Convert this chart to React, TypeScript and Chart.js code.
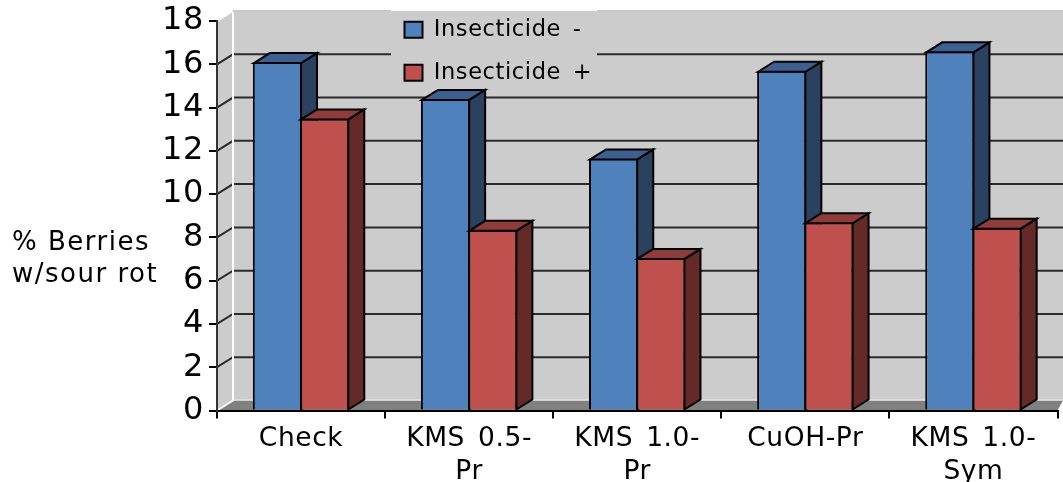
import React, { useEffect, useRef } from "react";
import { Chart, registerables } from "chart.js";

Chart.register(...registerables);

const categories = [["Check"], ["KMS 0.5-", "Pr"], ["KMS 1.0-", "Pr"], ["CuOH-Pr"], ["KMS 1.0-", "Sym"]];
const insecticideMinus = [16.1, 14.4, 11.65, 15.7, 16.6];
const insecticidePlus = [13.5, 8.35, 7.05, 8.7, 8.45];
const seriesNames = ["Insecticide -", "Insecticide +"];
const axisTitleLines = ["% Berries", "w/sour rot"];
const yTicks = [0, 2, 4, 6, 8, 10, 12, 14, 16, 18];

const DX = 16;
const DY = -10;
const WALL = "#cccccc";
const FONT = '"DejaVu Sans", Verdana, sans-serif';
const sideColors = ["#2a4260", "#632a28"];
const topColors = ["#3c6090", "#8f3c3a"];

const wallPlugin = {
  id: "wall3d",
  afterLayout(chart: any) {
    const lg = chart.legend;
    if (lg) {
      lg.left = 384;
      lg.right = 700;
      lg.top = -2;
      lg.bottom = 200;
    }
  },
  beforeDraw(chart: any) {
    const { ctx, chartArea: a, scales } = chart;
    ctx.letterSpacing = "0.6px";
    ctx.wordSpacing = "4px";
    const y = scales.y;
    const edge = chart.width;
    const y0 = y.getPixelForValue(0);
    const yT = y.getPixelForValue(18);
    ctx.save();
    ctx.fillStyle = WALL;
    ctx.fillRect(a.left + DX, yT + DY, edge - a.left - DX, y0 - yT);
    ctx.beginPath();
    ctx.moveTo(a.left, y0);
    ctx.lineTo(a.left + DX, y0 + DY);
    ctx.lineTo(a.left + DX, yT + DY);
    ctx.lineTo(a.left, yT);
    ctx.closePath();
    ctx.fill();
    ctx.fillStyle = "#808080";
    ctx.beginPath();
    ctx.moveTo(a.left, y0);
    ctx.lineTo(a.left + DX, y0 + DY);
    ctx.lineTo(edge, y0 + DY);
    ctx.lineTo(a.right, y0);
    ctx.closePath();
    ctx.fill();
    ctx.strokeStyle = "#2b2b2b";
    ctx.lineWidth = 2;
    for (const v of yTicks) {
      if (v === 0 || v === 18) continue;
      const py = y.getPixelForValue(v);
      ctx.beginPath();
      ctx.moveTo(a.left, py);
      ctx.lineTo(a.left + DX, py + DY);
      ctx.lineTo(edge, py + DY);
      ctx.stroke();
    }
    ctx.strokeStyle = "#ffffff";
    ctx.lineWidth = 2;
    ctx.beginPath();
    ctx.moveTo(a.left, yT);
    ctx.lineTo(a.left + DX, yT + DY);
    ctx.lineTo(a.left + DX, y0 + DY);
    ctx.lineTo(a.left, y0);
    ctx.stroke();
    ctx.lineWidth = 1;
    ctx.strokeStyle = "#eeeeee";
    ctx.beginPath();
    ctx.moveTo(a.left + DX, y0 + DY - 0.5);
    ctx.lineTo(edge, y0 + DY - 0.5);
    ctx.stroke();
    ctx.lineWidth = 2;
    ctx.strokeStyle = "#c8c8c8";
    ctx.beginPath();
    ctx.moveTo(a.left + DX, yT + DY);
    ctx.lineTo(edge, yT + DY);
    ctx.stroke();
    ctx.fillStyle = "#ffffff";
    ctx.fillRect(391, 0, 206, yT + DY);
    ctx.fillStyle = WALL;
    ctx.fillRect(391, yT + DY, 206, 76);
    ctx.restore();

    ctx.save();
    ctx.fillStyle = "#000000";
    ctx.letterSpacing = "1.5px";
    ctx.wordSpacing = "0px";
    ctx.font = `26px ${FONT}`;
    ctx.textAlign = "left";
    ctx.textBaseline = "middle";
    axisTitleLines.forEach((t, i) => ctx.fillText(t, 12, 243 + i * 32));
    ctx.restore();
  },
  beforeDatasetDraw() {
    return false;
  },
  afterDatasetsDraw(chart: any) {
    const { ctx } = chart;
    chart.data.datasets.forEach((_: any, i: number) => {
      const meta = chart.getDatasetMeta(i);
      ctx.save();
      for (const bar of meta.data) {
        bar.draw(ctx);
        // Chart.js insets the 2px border, so trace the outline along its centre.
        const left = bar.x - bar.width / 2 + 1;
        const right = bar.x + bar.width / 2 - 1;
        const top = bar.y + 1;
        const base = bar.base;
        ctx.strokeStyle = "#000000";
        ctx.lineWidth = 2;
        ctx.fillStyle = sideColors[i];
        ctx.beginPath();
        ctx.moveTo(right, top);
        ctx.lineTo(right + DX, top + DY);
        ctx.lineTo(right + DX, base + DY);
        ctx.lineTo(right, base);
        ctx.closePath();
        ctx.fill();
        ctx.stroke();
        ctx.fillStyle = topColors[i];
        ctx.beginPath();
        ctx.moveTo(left, top);
        ctx.lineTo(left + DX, top + DY);
        ctx.lineTo(right + DX, top + DY);
        ctx.lineTo(right, top);
        ctx.closePath();
        ctx.fill();
        ctx.stroke();
      }
      ctx.restore();
    });
  },
};

export default function App() {
  const ref = useRef<HTMLCanvasElement | null>(null);
  useEffect(() => {
    const chart = new Chart(ref.current as HTMLCanvasElement, {
      type: "bar",
      data: {
        labels: categories,
        datasets: [
          { label: seriesNames[0], data: insecticideMinus, backgroundColor: "#4f81bd", borderColor: "#000000", borderWidth: 2 },
          { label: seriesNames[1], data: insecticidePlus, backgroundColor: "#c0504d", borderColor: "#000000", borderWidth: 2 },
        ],
      },
      options: {
        animation: false,
        responsive: false,
        devicePixelRatio: 1,
        layout: { padding: { top: 21, right: 5.5, left: 0, bottom: 0 } },
        datasets: { bar: { categoryPercentage: 0.562, barPercentage: 1.042 } },
        plugins: {
          tooltip: { enabled: false },
          legend: {
            position: "chartArea",
            fullSize: false,
            align: "start",
            labels: {
              color: "#000000",
              font: { family: FONT, size: 22.5 },
              boxWidth: 18,
              boxHeight: 16,
              padding: 20.5,
            },
          },
        },
        scales: {
          x: {
            afterFit: (s: any) => { s.height = 71.5; },
            grid: { display: true, drawOnChartArea: false, drawTicks: true, tickLength: 8, color: "#000000", lineWidth: 2, offset: true },
            border: { display: true, color: "#000000", width: 2 },
            ticks: { color: "#000000", font: { family: FONT, size: 26.5, lineHeight: 1.25 }, maxRotation: 0, autoSkip: false, padding: 4 },
          },
          y: {
            min: 0,
            max: 18,
            afterFit: (s: any) => { s.width = 217; },
            afterBuildTicks: (s: any) => { s.ticks = yTicks.map((value) => ({ value })); },
            grid: { display: true, drawOnChartArea: false, drawTicks: true, tickLength: 8, color: "#000000", lineWidth: 2 },
            border: { display: true, color: "#333333", width: 2 },
            ticks: { color: "#000000", font: { family: FONT, size: 32, lineHeight: 1 }, padding: 5 },
          },
        },
      } as any,
      plugins: [wallPlugin],
    });
    return () => chart.destroy();
  }, []);
  return (
    <div style={{ position: "absolute", left: 0, top: 0, width: 1063, height: 482, background: "#fff", overflow: "hidden" }}>
      <canvas ref={ref} width={1063} height={482} style={{ display: "block" }} />
    </div>
  );
}
